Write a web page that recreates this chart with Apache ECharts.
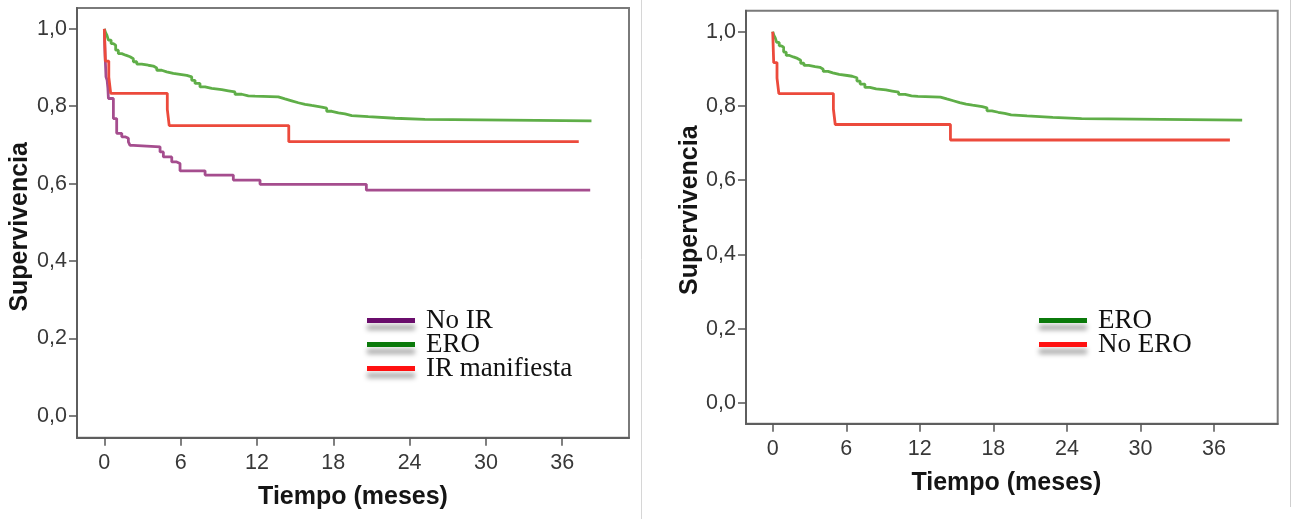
<!DOCTYPE html>
<html>
<head>
<meta charset="utf-8">
<script src="https://cdn.jsdelivr.net/npm/echarts@6/dist/echarts.min.js"></script>
<style>
  html, body { margin: 0; padding: 0; background: #ffffff; }
  #chart { width: 1291px; height: 519px; }
</style>
</head>
<body>
<div id="chart"></div>
<script>
// Kaplan-Meier survival curves: time in months, cumulative survival
const eroTimes = [0, 0.1, 0.2, 0.32, 0.53, 0.71, 0.89, 1.1, 1.37, 1.68, 2.02, 2.28, 2.55, 2.94, 3.46, 3.85, 4.12, 4.51, 4.9, 5.42, 6.08, 6.48, 6.87, 7.13, 7.52, 7.92, 8.44, 9.23, 9.75, 10.27, 10.8, 11.32, 11.85, 13.68, 14.2, 14.73, 15.25, 15.78, 16.3, 17.09, 17.48, 17.88, 18.4, 18.92, 19.45, 20.75, 22.85, 25.2, 38.3];
const eroSurv  = [1, 0.99, 0.984, 0.971, 0.962, 0.958, 0.945, 0.936, 0.932, 0.928, 0.923, 0.915, 0.909, 0.906, 0.904, 0.899, 0.893, 0.889, 0.885, 0.882, 0.880, 0.876, 0.867, 0.859, 0.850, 0.846, 0.843, 0.840, 0.837, 0.831, 0.827, 0.826, 0.824, 0.819, 0.814, 0.809, 0.805, 0.802, 0.798, 0.795, 0.787, 0.783, 0.780, 0.776, 0.773, 0.769, 0.766, 0.762, 0.762];

const noIrTimes = [0, 0.03, 0.06, 0.1, 0.13, 0.22, 0.28, 0.32, 0.71, 0.97, 1.37, 1.63, 1.89, 2.02, 2.28, 4.38, 4.64, 5.3, 5.69, 5.95, 7.92, 10.14, 12.24, 20.6, 38.2];
const noIrSurv  = [1, 0.96, 0.93, 0.90, 0.876, 0.867, 0.846, 0.820, 0.768, 0.730, 0.721, 0.717, 0.708, 0.699, 0.695, 0.682, 0.669, 0.656, 0.652, 0.633, 0.622, 0.609, 0.598, 0.583, 0.583];

const irTimes = [0, 0.08, 0.35, 0.5, 4.95, 5.1, 14.5, 37.3];
const irSurv  = [1, 0.9167, 0.875, 0.8333, 0.7917, 0.75, 0.7083, 0.7083];

const xTickValues = [0, 6, 12, 18, 24, 30, 36];
const yTickValues = [0, 0.2, 0.4, 0.6, 0.8, 1.0];

const leftNames  = ['No IR', 'ERO', 'IR manifiesta'];
const rightNames = ['ERO', 'No ERO'];

const lineColors   = { purple: '#a54d8e', green: '#5fae48', red: '#ec4a3c' };
const legendColors = { purple: '#6a0d6c', green: '#0b7a0b', red: '#ff1111' };

const pairs = (ts, vs) => ts.map((t, i) => [t, vs[i]]);
const fmtY = v => v.toFixed(1).replace('.', ',');

const chart = echarts.init(document.getElementById('chart'), null, { renderer: 'canvas' });

function makeXAxis(gridIndex, min, max, gap, namePad) {
  return {
    type: 'value', gridIndex, min, max,
    name: 'Tiempo (meses)', nameLocation: 'middle', nameGap: gap,
    nameTextStyle: { fontFamily: 'Liberation Sans, Arial', fontWeight: 'bold', fontSize: 25, color: '#151515', padding: namePad },
    axisLine: { show: true, onZero: false, lineStyle: { color: '#5e5e5e', width: 2 } },
    axisTick: { show: true, length: 8, lineStyle: { color: '#555', width: 1.5 }, customValues: xTickValues },
    axisLabel: { fontFamily: 'Liberation Sans, Arial', fontSize: 21.5, color: '#383838', margin: 14, customValues: xTickValues, formatter: v => String(v) },
    splitLine: { show: false }
  };
}

function makeYAxis(gridIndex, min, max, gap, namePad) {
  return {
    type: 'value', gridIndex, min, max,
    name: 'Supervivencia', nameLocation: 'middle', nameGap: gap, nameRotate: 90,
    nameTextStyle: { fontFamily: 'Liberation Sans, Arial', fontWeight: 'bold', fontSize: 25, color: '#151515', padding: namePad },
    axisLine: { show: true, onZero: false, lineStyle: { color: '#5e5e5e', width: 2 } },
    axisTick: { show: true, length: 8, lineStyle: { color: '#555', width: 1.5 }, customValues: yTickValues },
    axisLabel: { fontFamily: 'Liberation Sans, Arial', fontSize: 21.5, color: '#383838', margin: 10, customValues: yTickValues, formatter: fmtY },
    splitLine: { show: false }
  };
}

function kmSeries(name, idx, ts, vs, color) {
  return {
    type: 'line', name, xAxisIndex: idx, yAxisIndex: idx,
    step: 'end', showSymbol: false, symbol: 'none',
    data: pairs(ts, vs),
    lineStyle: { color, width: 2.8 },
    itemStyle: { color },
    emphasis: { disabled: true },
    animation: false
  };
}

const legendBase = {
  orient: 'vertical', icon: 'rect', itemWidth: 48, itemHeight: 5, itemGap: -3,
  itemStyle: { shadowColor: 'rgba(0,0,0,0.35)', shadowBlur: 5, shadowOffsetY: 7 },
  textStyle: { fontFamily: 'Liberation Serif, Times New Roman, serif', fontSize: 27, color: '#111', lineHeight: 24, padding: [0, 0, 0, 6] },
  selectedMode: false
};

const option = {
  backgroundColor: '#ffffff',
  animation: false,
  grid: [
    { left: 77, top: 8, width: 552, height: 429.7, show: true, borderColor: '#7a7a7a', borderWidth: 2, backgroundColor: '#ffffff' },
    { left: 746, top: 10.7, width: 531.7, height: 413, show: true, borderColor: '#7a7a7a', borderWidth: 2, backgroundColor: '#ffffff' }
  ],
  xAxis: [ makeXAxis(0, -2.15, 41.25, 47, [0, 0, 0, 0]), makeXAxis(1, -2.18, 41.2, 47, [0, 11, 0, 0]) ],
  yAxis: [ makeYAxis(0, -0.057, 1.054, 44, [0, 8, 0, 0]), makeYAxis(1, -0.0557, 1.0565, 43, [0, 0, 0, 14]) ],
  legend: [
    Object.assign({}, legendBase, {
      left: 362, top: 302,
      data: [
        { name: leftNames[0], itemStyle: { color: legendColors.purple } },
        { name: leftNames[1], itemStyle: { color: legendColors.green } },
        { name: leftNames[2], itemStyle: { color: legendColors.red } }
      ]
    }),
    Object.assign({}, legendBase, {
      left: 1034, top: 302,
      data: [
        { name: rightNames[0], itemStyle: { color: legendColors.green } },
        { name: rightNames[1], itemStyle: { color: legendColors.red } }
      ]
    })
  ],
  series: [
    kmSeries(leftNames[0], 0, noIrTimes, noIrSurv, lineColors.purple),
    kmSeries(leftNames[1], 0, eroTimes, eroSurv, lineColors.green),
    kmSeries(leftNames[2], 0, irTimes, irSurv, lineColors.red),
    kmSeries(rightNames[0], 1, eroTimes, eroSurv, lineColors.green),
    kmSeries(rightNames[1], 1, irTimes, irSurv, lineColors.red)
  ],
  graphic: [
    { type: 'line', shape: { x1: 641.5, y1: 0, x2: 641.5, y2: 519 }, style: { stroke: '#d6d6d6', lineWidth: 1 }, silent: true },
    { type: 'line', shape: { x1: 1290.5, y1: 0, x2: 1290.5, y2: 507 }, style: { stroke: '#cfcfcf', lineWidth: 1 }, silent: true }
  ]
};

chart.setOption(option);
</script>
</body>
</html>
